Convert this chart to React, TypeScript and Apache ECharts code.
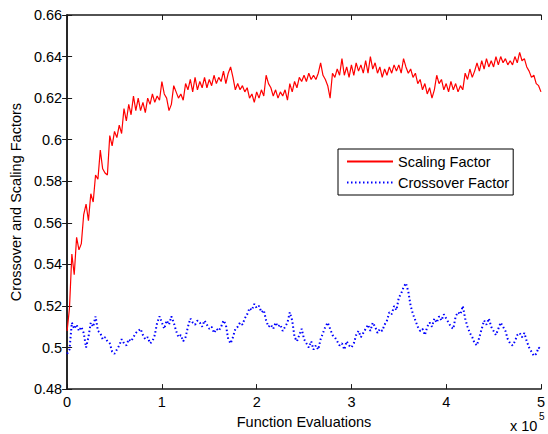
import React, { useEffect, useRef } from "react";
import * as echarts from "echarts";

// sampling step of the recorded series, in units of 1e5 function evaluations
const STEP = 0.025;

const xTicks = [0, 1, 2, 3, 4, 5];
const yTicks = [0.48, 0.5, 0.52, 0.54, 0.56, 0.58, 0.6, 0.62, 0.64, 0.66];

const scalingFactor = [
  0.508, 0.519, 0.545, 0.535, 0.553, 0.547, 0.55, 0.564, 0.569, 0.561, 0.574, 0.57, 0.583, 0.581, 0.595, 0.586, 0.584, 0.583, 0.602, 0.597,
  0.604, 0.601, 0.607, 0.603, 0.615, 0.609, 0.617, 0.612, 0.621, 0.614, 0.62, 0.614, 0.618, 0.613, 0.62, 0.617, 0.622, 0.618, 0.621, 0.619,
  0.628, 0.622, 0.62, 0.614, 0.617, 0.626, 0.623, 0.62, 0.622, 0.619, 0.627, 0.624, 0.629, 0.623, 0.63, 0.624, 0.628, 0.625, 0.63, 0.625,
  0.629, 0.626, 0.631, 0.627, 0.63, 0.628, 0.633, 0.627, 0.632, 0.635, 0.63, 0.624, 0.627, 0.624, 0.626, 0.623, 0.625, 0.62, 0.622, 0.618,
  0.623, 0.62, 0.624, 0.621, 0.631, 0.627, 0.625, 0.621, 0.624, 0.62, 0.623, 0.621, 0.624, 0.619, 0.627, 0.623, 0.628, 0.625, 0.63, 0.628,
  0.631, 0.628, 0.632, 0.629, 0.631, 0.629, 0.632, 0.637, 0.631, 0.629, 0.626, 0.62, 0.632, 0.63, 0.634, 0.631, 0.639, 0.631, 0.635, 0.63,
  0.636, 0.631, 0.637, 0.633, 0.636, 0.632, 0.638, 0.632, 0.64, 0.634, 0.637, 0.632, 0.635, 0.63, 0.634, 0.631, 0.635, 0.632, 0.636, 0.633,
  0.636, 0.632, 0.639, 0.635, 0.632, 0.634, 0.63, 0.632, 0.627, 0.629, 0.624, 0.627, 0.622, 0.625, 0.62, 0.624, 0.631, 0.627, 0.629, 0.624,
  0.627, 0.623, 0.628, 0.624, 0.627, 0.623, 0.626, 0.624, 0.632, 0.629, 0.634, 0.63, 0.633, 0.637, 0.633, 0.638, 0.634, 0.639, 0.635, 0.638,
  0.635, 0.64, 0.636, 0.64, 0.637, 0.639, 0.636, 0.638, 0.636, 0.64, 0.637, 0.642, 0.638, 0.639, 0.635, 0.633, 0.63, 0.631, 0.627, 0.626, 0.623,
];

const crossoverFactor = [
  0.497, 0.499, 0.512, 0.509, 0.511, 0.508, 0.51, 0.507, 0.5, 0.505, 0.512, 0.51, 0.515, 0.508, 0.507, 0.504, 0.505, 0.503, 0.502, 0.498,
  0.497, 0.499, 0.501, 0.504, 0.502, 0.501, 0.504, 0.503, 0.505, 0.507, 0.508, 0.509, 0.506, 0.504, 0.505, 0.502, 0.503, 0.506, 0.512, 0.515,
  0.512, 0.509, 0.513, 0.511, 0.515, 0.512, 0.508, 0.505, 0.506, 0.503, 0.505, 0.51, 0.514, 0.512, 0.511, 0.513, 0.512, 0.51, 0.513, 0.511,
  0.509, 0.51, 0.507, 0.509, 0.508, 0.51, 0.513, 0.511, 0.504, 0.502, 0.505, 0.509, 0.51, 0.512, 0.511, 0.514, 0.516, 0.519, 0.518, 0.521,
  0.519, 0.52, 0.517, 0.518, 0.513, 0.51, 0.511, 0.509, 0.512, 0.51, 0.511, 0.508, 0.51, 0.512, 0.517, 0.513, 0.505, 0.503, 0.506, 0.509,
  0.504, 0.502, 0.5, 0.503, 0.499, 0.501, 0.499, 0.504, 0.507, 0.51, 0.512, 0.509, 0.506, 0.505, 0.503, 0.501, 0.502, 0.499, 0.503, 0.501,
  0.5, 0.502, 0.506, 0.508, 0.505, 0.507, 0.509, 0.511, 0.508, 0.512, 0.51, 0.507, 0.509, 0.508, 0.511, 0.513, 0.517, 0.516, 0.52, 0.518,
  0.524, 0.526, 0.529, 0.531, 0.527, 0.52, 0.516, 0.513, 0.51, 0.508, 0.509, 0.506, 0.51, 0.512, 0.51, 0.514, 0.512, 0.515, 0.513, 0.516,
  0.514, 0.512, 0.51, 0.509, 0.515, 0.517, 0.516, 0.52, 0.514, 0.51, 0.507, 0.505, 0.502, 0.501, 0.505, 0.509, 0.513, 0.511, 0.514, 0.51,
  0.508, 0.506, 0.509, 0.512, 0.51, 0.508, 0.504, 0.502, 0.501, 0.503, 0.506, 0.507, 0.505, 0.507, 0.503, 0.5, 0.498, 0.496, 0.497, 0.5, 0.499,
];

const FONT = "'Liberation Sans', Arial, Helvetica, sans-serif";
const FS = 14.5;

export default function App() {
  const ref = useRef<HTMLDivElement>(null);

  useEffect(() => {
    if (!ref.current) return;
    const chart = echarts.init(ref.current, null, { renderer: "svg" });
    const toPairs = (arr: number[]) => arr.map((v, i) => [i * STEP, v]);
    const axisColor = "#1a1a1a";
    const baseX = {
      type: "value" as const,
      min: xTicks[0],
      max: xTicks[xTicks.length - 1],
      interval: 1,
      axisLine: { show: true, lineStyle: { color: axisColor, width: 1.5 } },
      axisTick: { show: true, inside: true, length: 5, lineStyle: { color: axisColor, width: 1 } },
      splitLine: { show: false },
    };
    const baseY = {
      type: "value" as const,
      min: yTicks[0],
      max: yTicks[yTicks.length - 1],
      interval: 0.02,
      axisLine: { show: true, lineStyle: { color: axisColor, width: 1.5 } },
      axisTick: { show: true, inside: true, length: 5, lineStyle: { color: axisColor, width: 1 } },
      splitLine: { show: false },
    };
    chart.setOption({
      animation: false,
      backgroundColor: "#ffffff",
      textStyle: { fontFamily: FONT },
      grid: { left: 66, top: 15, right: 4, bottom: 42, containLabel: false },
      xAxis: [
        {
          ...baseX,
          position: "bottom",
          name: "Function Evaluations",
          nameLocation: "middle",
          nameGap: 22,
          nameTextStyle: { fontSize: FS, color: "#000", fontFamily: FONT },
          axisLabel: { fontSize: FS, color: "#000", margin: 5, fontFamily: FONT },
        },
        { ...baseX, position: "top", axisLabel: { show: false } },
      ],
      yAxis: [
        {
          ...baseY,
          position: "left",
          name: "Crossover and Scaling Factors",
          nameLocation: "middle",
          nameGap: 41,
          nameTextStyle: { fontSize: FS, color: "#000", fontFamily: FONT },
          axisLabel: {
            fontSize: FS,
            color: "#000",
            margin: 5,
            fontFamily: FONT,
            formatter: (v: number) => String(+v.toFixed(2)),
          },
        },
        { ...baseY, position: "right", axisLabel: { show: false } },
      ],
      legend: {
        left: 338,
        top: 149,
        orient: "vertical",
        padding: [5, 4, 5, 8],
        itemWidth: 46,
        itemHeight: 14,
        itemGap: 6,
        backgroundColor: "#ffffff",
        borderColor: "#000000",
        borderWidth: 1,
        borderRadius: 0,
        itemStyle: { opacity: 0, color: "rgba(0,0,0,0)", borderWidth: 0 },
        textStyle: { fontSize: FS, color: "#000", fontFamily: FONT, lineHeight: 14 },
        data: ["Scaling Factor", "Crossover Factor"],
      },
      graphic: [
        { type: "text", left: 510, top: 418, style: { text: "x 10", fontSize: FS, lineHeight: 15, fill: "#000", fontFamily: FONT } },
        { type: "text", left: 539, top: 411, style: { text: "5", fontSize: 10, lineHeight: 11, fill: "#000", fontFamily: FONT } },
      ],
      series: [
        {
          name: "Scaling Factor",
          type: "line",
          xAxisIndex: 0,
          yAxisIndex: 0,
          data: toPairs(scalingFactor),
          symbol: "none",
          lineStyle: { color: "#ff0000", width: 1.2 },
          itemStyle: { color: "#ff0000" },
        },
        {
          name: "Crossover Factor",
          type: "line",
          xAxisIndex: 0,
          yAxisIndex: 0,
          data: toPairs(crossoverFactor),
          symbol: "none",
          lineStyle: { color: "#0000ff", width: 2, type: [1.5, 2.5] },
          itemStyle: { color: "#0000ff" },
        },
      ],
    });
    return () => chart.dispose();
  }, []);

  return (
    <div
      ref={ref}
      style={{ position: "fixed", left: 0, top: 0, width: 548, height: 434, background: "#fff" }}
    />
  );
}
